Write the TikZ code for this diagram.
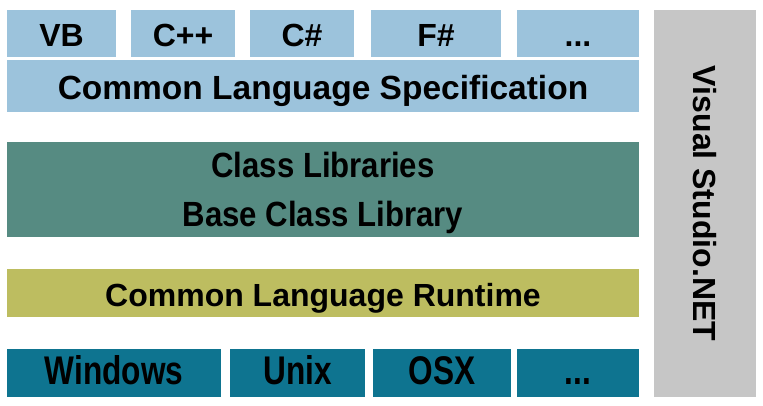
\documentclass[tikz,border=0pt]{standalone}
\usepackage{fontspec}
\setmainfont{Liberation Sans}
\definecolor{lblue}{HTML}{9CC3DC}
\definecolor{tealg}{HTML}{568B82}
\definecolor{olive}{HTML}{BDBD60}
\definecolor{dteal}{HTML}{0E7490}
\definecolor{vsgray}{HTML}{C6C6C6}
\begin{document}
\begin{tikzpicture}[x=1pt,y=-1pt,
  blk/.style={draw=none,inner sep=0pt,outer sep=0pt,anchor=north west},
  lang/.style={blk,fill=lblue,minimum height=47pt},
  osbox/.style={blk,fill=dteal,minimum height=48pt},
  lbl/.style={inner sep=0pt,anchor=base,text=black,font=\bfseries\fontsize{32}{38}\selectfont},
  midlbl/.style={lbl,font=\bfseries\fontsize{35}{40}\selectfont,xscale=0.89},
  oslbl/.style={lbl,font=\bfseries\fontsize{40}{46}\selectfont,xscale=0.79}]
\useasboundingbox (0,0) rectangle (763,406);
% top row
\node[lang,minimum width=109pt] (vb) at (7,10) {};
\node[lang,minimum width=104pt] (cpp) at (131,10) {};
\node[lang,minimum width=104pt] (cs) at (250,10) {};
\node[lang,minimum width=130pt] (fs) at (371,10) {};
\node[lang,minimum width=122pt] (ld) at (517,10) {};
\node[lbl] (vbt) at (61.5,47) {VB};
\node[lbl] (cppt) at (183,47) {C++};
\node[lbl] (cst) at (302,47) {C\#};
\node[lbl] (fst) at (436,47) {F\#};
\node[lbl] (ldt) at (578,47) {...};
% CLS
\node[blk,fill=lblue,minimum width=632pt,minimum height=52pt] (cls) at (7,60) {};
\node[lbl,font=\bfseries\fontsize{33.5}{40}\selectfont] (clst) at (323,99.5) {Common Language Specification};
% class libraries
\node[blk,fill=tealg,minimum width=632pt,minimum height=95pt] (cl) at (7,142) {};
\node[midlbl] (clt1) at (323,178) {Class Libraries};
\node[midlbl] (clt2) at (323,227) {Base Class Library};
% CLR
\node[blk,fill=olive,minimum width=632pt,minimum height=48pt] (clr) at (7,269) {};
\node[lbl] (clrt) at (323,306.5) {Common Language Runtime};
% OS row
\node[osbox,minimum width=214pt] (win) at (7,349) {};
\node[osbox,minimum width=135pt] (unix) at (230,349) {};
\node[osbox,minimum width=138pt] (osx) at (373,349) {};
\node[osbox,minimum width=122pt] (od) at (517,349) {};
\node[oslbl] (wint) at (114,384) {Windows};
\node[oslbl] (unixt) at (297.5,384) {Unix};
\node[oslbl] (osxt) at (442,384) {OSX};
\node[oslbl] (odt) at (578,384) {...};
% Visual Studio
\node[blk,fill=vsgray,minimum width=102pt,minimum height=387pt] (vs) at (654,10) {};
\node[font=\bfseries\fontsize{32}{38}\selectfont,rotate=-90,inner sep=0pt] (vst) at (vs.center) {Visual Studio.NET};
\end{tikzpicture}
\end{document}
